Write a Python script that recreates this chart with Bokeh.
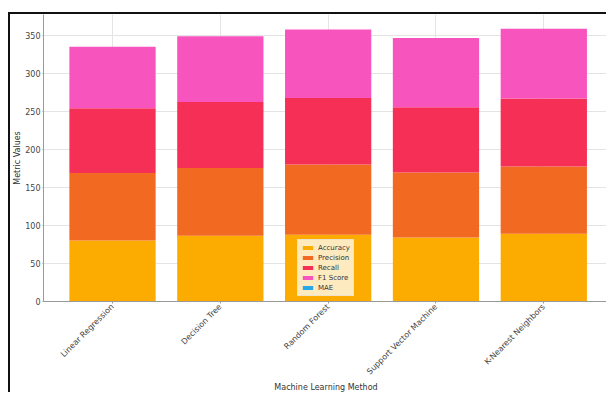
from math import pi

from bokeh.embed import file_html
from bokeh.models import FixedTicker, Range1d
from bokeh.plotting import figure
from bokeh.resources import INLINE

# Machine learning methods compared
methods = ["Linear Regression", "Decision Tree", "Random Forest",
           "Support Vector Machine", "K-Nearest Neighbors"]

# Metric values per method (stacked in this order)
accuracy = [80.0, 86.5, 87.8, 84.0, 89.0]
precision = [88.7, 89.0, 92.2, 85.5, 88.4]
recall = [85.1, 86.5, 87.4, 85.7, 89.1]
f1_score = [80.8, 86.5, 89.9, 90.8, 91.8]
mae = [0.04, 0.05, 0.03, 0.04, 0.03]

metric_names = ["Accuracy", "Precision", "Recall", "F1 Score", "MAE"]
metric_colors = ["#fcab00", "#f26922", "#f52f55", "#f854be", "#2aa9e8"]

y_ticks = [0, 50, 100, 150, 200, 250, 300, 350]

positions = list(range(len(methods)))
source = dict(
    x=positions,
    Accuracy=accuracy,
    Precision=precision,
    Recall=recall,
    **{"F1 Score": f1_score},
    MAE=mae,
)

font = "DejaVu Sans"

p = figure(
    width=598,
    height=380,
    output_backend="svg",
    toolbar_location=None,
    x_range=Range1d(-0.64, 4.6),
    y_range=Range1d(0, 377),
    min_border_left=30,
    min_border_right=0,
    min_border_top=0,
    min_border_bottom=86,
    styles={
        "margin-left": "8px",
        "margin-top": "12px",
        "border-top": "2px solid #111111",
        "border-left": "2px solid #111111",
    },
)
p.outline_line_color = None
p.background_fill_color = "white"
p.border_fill_color = "white"

p.vbar_stack(
    metric_names,
    x="x",
    width=0.8,
    source=source,
    color=metric_colors,
    line_color=None,
    legend_label=metric_names,
)

for g in (p.xgrid, p.ygrid):
    g.grid_line_color = "#e4e4e4"
    g.grid_line_alpha = 1.0
p.xgrid.ticker = FixedTicker(ticks=positions)
p.ygrid.ticker = FixedTicker(ticks=y_ticks)

p.xaxis.ticker = FixedTicker(ticks=positions)
p.xaxis.major_label_overrides = {i: m for i, m in enumerate(methods)}
p.xaxis.major_label_orientation = pi / 4
p.yaxis.ticker = FixedTicker(ticks=y_ticks)

for ax in (p.xaxis[0], p.yaxis[0]):
    ax.axis_line_color = "#9a9a9a"
    ax.major_tick_line_color = "#9a9a9a"
    ax.major_tick_out = 2
    ax.major_tick_in = 0
    ax.minor_tick_line_color = None
    ax.major_label_text_font = font
    ax.major_label_text_font_size = "8px"
    ax.major_label_text_color = "#444444"
    ax.axis_label_text_font = font
    ax.axis_label_text_font_size = "8px"
    ax.axis_label_text_font_style = "normal"
    ax.axis_label_text_color = "#333333"

p.yaxis.major_tick_out = 1
p.xaxis.axis_label = "Machine Learning Method"
p.yaxis.axis_label = "Metric Values"
p.yaxis.major_label_standoff = 2
p.xaxis.major_label_standoff = 2
p.yaxis.axis_label_standoff = 0
p.xaxis.axis_label_standoff = 0

leg = p.legend[0]
leg.location = (254, 5)
leg.background_fill_color = "white"
leg.background_fill_alpha = 0.75
leg.border_line_color = "#dddddd"
leg.label_text_font = font
leg.label_text_font_size = "7px"
leg.label_text_color = "#333333"
leg.glyph_width = 13
leg.glyph_height = 5
leg.label_height = 9
leg.label_standoff = 4
leg.spacing = 1
leg.padding = 3
leg.margin = 0

open("out.html", "w").write(file_html(p, INLINE))
